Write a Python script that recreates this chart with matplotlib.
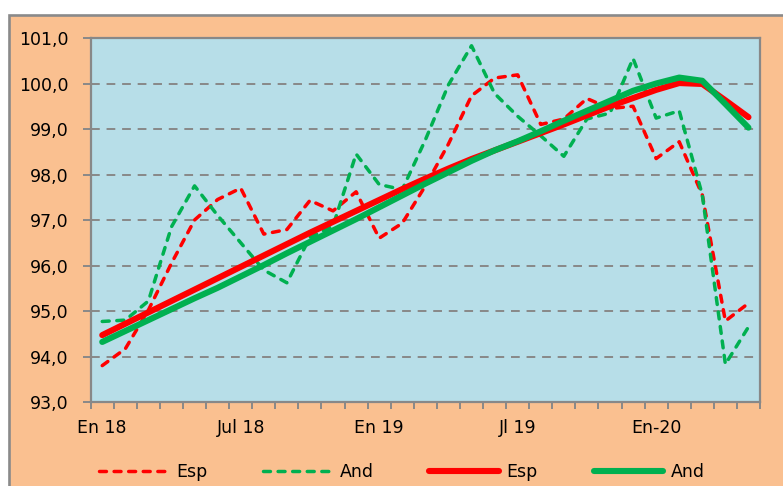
import numpy as np
import matplotlib.pyplot as plt
from matplotlib.patches import Rectangle
from matplotlib.ticker import FuncFormatter

# meses de En 18 a May 20
meses = np.arange(29)
etiquetas = ['En 18', 'Jul 18', 'En 19', 'Jl 19', 'En-20']
pos_etiquetas = [0, 6, 12, 18, 24]

esp_mensual = [93.80, 94.17, 95.02, 96.05, 97.00, 97.45, 97.70, 96.69, 96.79, 97.43,
               97.20, 97.62, 96.60, 96.93, 97.75, 98.67, 99.73, 100.12, 100.19, 99.10,
               99.22, 99.67, 99.45, 99.50, 98.35, 98.72, 97.55, 94.78, 95.17]
and_mensual = [94.77, 94.80, 95.22, 96.85, 97.75, 97.10, 96.50, 95.90, 95.62, 96.62,
               96.87, 98.45, 97.78, 97.67, 98.76, 99.97, 100.83, 99.78, 99.28, 98.85,
               98.40, 99.22, 99.35, 100.55, 99.24, 99.40, 97.55, 93.83, 94.65]
esp_tendencia = [94.47, 94.72, 94.97, 95.22, 95.47, 95.72, 95.97, 96.22, 96.47, 96.72,
                 96.96, 97.20, 97.44, 97.68, 97.91, 98.13, 98.34, 98.53, 98.72, 98.91,
                 99.10, 99.30, 99.50, 99.68, 99.86, 100.01, 99.99, 99.63, 99.26]
and_tendencia = [94.32, 94.56, 94.80, 95.04, 95.28, 95.51, 95.76, 96.01, 96.27, 96.52,
                 96.77, 97.02, 97.28, 97.54, 97.80, 98.05, 98.30, 98.53, 98.73, 98.95,
                 99.18, 99.40, 99.62, 99.84, 100.00, 100.13, 100.06, 99.55, 99.03]

rojo = '#FF0000'
verde = '#00B050'
gris = '#888888'

fig = plt.figure(figsize=(7.83, 4.86), dpi=100)
fig.patch.set_facecolor('white')

# marco exterior color salmon
fondo = Rectangle((9 / 783, -0.05), 1.0, 1 - 15.5 / 486 + 0.05, transform=fig.transFigure,
                  facecolor='#FAC090', edgecolor='#8A8A8A', linewidth=1.9, zorder=-5)
fig.patches.append(fondo)

ax = fig.add_axes([90.7 / 783, 1 - 402 / 486, (760 - 90.7) / 783, (402 - 38) / 486])
ax.set_zorder(2)
ax.set_facecolor('#B7DEE8')

ax.plot(meses, esp_mensual, color=rojo, lw=2.5, dashes=(2.0, 2.2), dash_capstyle='round',
        label='Esp')
ax.plot(meses, and_mensual, color=verde, lw=2.5, dashes=(2.0, 2.2), dash_capstyle='round',
        label='And')
ax.plot(meses, esp_tendencia, color=rojo, lw=4.4, solid_capstyle='round',
        solid_joinstyle='round', label='Esp')
ax.plot(meses, and_tendencia, color=verde, lw=4.4, solid_capstyle='round',
        solid_joinstyle='round', label='And')

ax.set_xlim(-0.5, 28.5)
ax.set_ylim(93, 101)
ax.set_yticks(np.arange(93, 102, 1))
ax.yaxis.set_major_formatter(FuncFormatter(lambda v, p: f'{v:.1f}'.replace('.', ',')))
ax.yaxis.grid(True, color=gris, linestyle=(0, (4.5, 3.5)), linewidth=1.4)
ax.set_axisbelow(True)

ax.set_xticks(np.arange(-0.5, 29, 1))
ax.set_xticklabels([])
ax.set_xticks(pos_etiquetas, minor=True)
ax.set_xticklabels(etiquetas, minor=True)

for lado in ax.spines.values():
    lado.set_color(gris)
    lado.set_linewidth(1.6)

ax.tick_params(axis='x', which='major', direction='out', length=5, width=1.4, color=gris)
ax.tick_params(axis='x', which='minor', length=0, pad=12.5, labelsize=12.5)
ax.tick_params(axis='y', direction='out', length=5.5, width=1.4, color=gris, pad=10.5,
               labelsize=12.5)

ax.legend(ncol=4, loc='center', bbox_to_anchor=(0.513, 0.029), bbox_transform=fig.transFigure,
          frameon=False, fontsize=12.5, handlelength=4.0, handletextpad=0.45, columnspacing=3.2)

fig.savefig('out.png', dpi=100, facecolor=fig.get_facecolor())
